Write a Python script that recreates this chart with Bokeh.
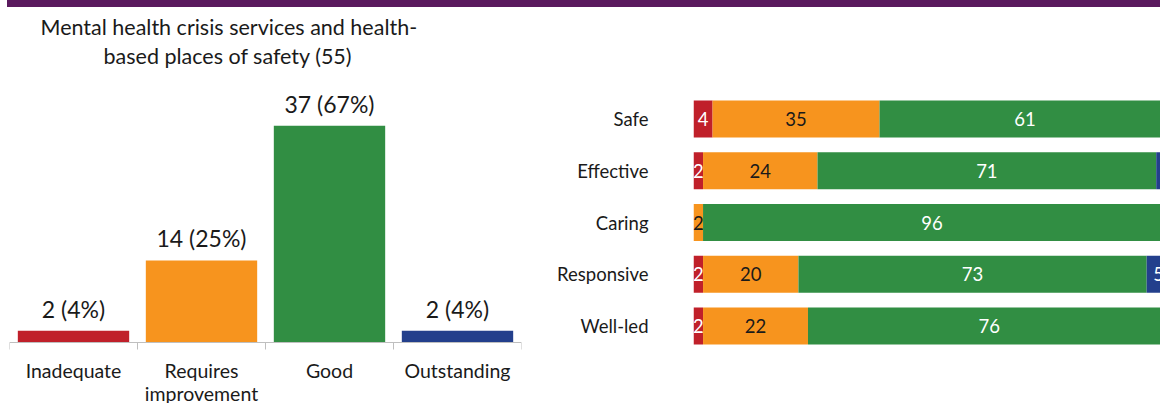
from bokeh.plotting import figure
from bokeh.models import (ColumnDataSource, Range1d, FixedTicker, LabelSet, Title, Div, Span)
from bokeh.layouts import row, column
from bokeh.core.properties import value
from bokeh.embed import file_html
from bokeh.resources import INLINE

# ---------------- data ----------------
title_lines = ["Mental health crisis services and health-", "based places of safety (55)"]
ratings = ["Inadequate", "Requires improvement", "Good", "Outstanding"]
rating_labels = ["Inadequate", "Requires\nimprovement", "Good", "Outstanding"]
counts = [2, 14, 37, 2]
total = 55

domains = ["Safe", "Effective", "Caring", "Responsive", "Well-led"]
inadequate_pct = [4, 2, 0, 2, 2]
requires_pct = [35, 24, 2, 20, 22]
good_pct = [61, 71, 96, 73, 76]
outstanding_pct = [0, 4, 2, 5, 0]

# ---------------- style ----------------
colors = ["#C0202A", "#F7941E", "#318E43", "#233F8C"]
label_colors = ["white", "#1A1A1A", "white", "white"]
FONT = "Lato"
TEXT = "#1A1A1A"
AXIS_GREY = "#BFBFBF"
PURPLE = "#5A1A5E"

# ---------------- left chart ----------------
xpos = [i + 1 for i in range(len(ratings))]
pct = [round(c / total * 100) for c in counts]
labels = [f"{c} ({p}%)" for c, p in zip(counts, pct)]
src = ColumnDataSource(dict(x=xpos, top=counts, color=colors, label=labels,
                            zero=[0] * len(counts), cat=rating_labels))

PX_PER_UNIT = 5.86
left = figure(width=540, height=396, x_range=Range1d(0.5, len(ratings) + 0.5),
              y_range=Range1d(-61 / PX_PER_UNIT, 274 / PX_PER_UNIT),
              output_backend="svg", toolbar_location=None,
              x_axis_location=None, y_axis_location=None,
              min_border_left=9, min_border_right=19,
              min_border_bottom=0, min_border_top=61)
left.title.text = title_lines[0]
left.title.align = "left"
left.title.offset = 31
left.title.standoff = 2
left.title.text_font = FONT
left.title.text_font_size = "21.5px"
left.title.text_font_style = "normal"
left.title.text_color = TEXT
left.add_layout(Title(text=title_lines[1], align="left", offset=94, standoff=0,
                      text_font=FONT, text_font_size="21.5px", text_font_style="normal",
                      text_color=TEXT), "above")

left.vbar(x="x", top="top", width=0.87, fill_color="color", line_color=None, source=src)
left.add_layout(LabelSet(x="x", y="top", text="label", source=src, text_align="center",
                         text_baseline="bottom", y_offset=8, text_font=value(FONT),
                         text_font_size="23px", text_color=TEXT))

# category axis: baseline, boundary ticks and labels
left.add_layout(Span(location=0, dimension="width", line_color=AXIS_GREY, line_width=1))
bounds = [i + 0.5 for i in range(len(ratings) + 1)]
left.segment(x0=bounds, x1=bounds, y0=[0] * len(bounds),
             y1=[-7 / PX_PER_UNIT] * len(bounds), line_color=AXIS_GREY, line_width=1)
left.text(x="x", y="zero", text="cat", source=src, text_align="center",
          text_baseline="top", y_offset=16, text_font=value(FONT),
          text_font_size="19.5px", text_color=TEXT, text_line_height=1.02)

left.xgrid.visible = False
left.ygrid.visible = False
left.outline_line_color = None

# ---------------- right chart ----------------
series = [inadequate_pct, requires_pct, good_pct, outstanding_pct]
keys = ["inad", "ri", "good", "out"]
ypos = [len(domains) - 1 - i for i in range(len(domains))]
src2 = ColumnDataSource(dict(y=ypos, inad=inadequate_pct, ri=requires_pct,
                             good=good_pct, out=outstanding_pct))

ROW_PX = 51.75
right = figure(width=620, height=396, y_range=Range1d(-77.5 / ROW_PX, 4 + 50.5 / ROW_PX),
               x_range=Range1d(0, 97.9), x_axis_location=None, output_backend="svg",
               toolbar_location=None, min_border_left=153, min_border_right=0,
               min_border_top=61, min_border_bottom=0)
right.hbar_stack(keys, y="y", height=0.715, fill_color=colors, line_color=None,
                 source=src2)

seg_x, seg_y, seg_t, seg_c = [], [], [], []
for i, yv in enumerate(ypos):
    start = 0
    for vals, lc in zip(series, label_colors):
        v = vals[i]
        if v > 0:
            seg_x.append(start + v / 2)
            seg_y.append(yv)
            seg_t.append(str(v))
            seg_c.append(lc)
        start += v
src3 = ColumnDataSource(dict(x=seg_x, y=seg_y, t=seg_t, c=seg_c))
right.text(x="x", y="y", text="t", text_color="c", source=src3, text_align="center",
           text_baseline="middle", text_font=value(FONT), text_font_size="18.5px")

yax = right.yaxis[0]
yax.ticker = FixedTicker(ticks=ypos, minor_ticks=[])
yax.major_label_overrides = {yv: d for yv, d in zip(ypos, domains)}
yax.axis_line_color = None
yax.major_tick_line_color = None
yax.minor_tick_line_color = None
yax.major_tick_out = 0
yax.major_tick_in = 0
yax.major_label_standoff = 45
yax.major_label_text_font = FONT
yax.major_label_text_font_size = "18.5px"
yax.major_label_text_color = TEXT
right.xgrid.visible = False
right.ygrid.visible = False
right.outline_line_color = None

band = Div(text="", width=1153, height=7, margin=(0, 0, 0, 7),
           styles={"background-color": PURPLE})

p = column(band, row(left, right))

open("out.html", "w").write(file_html(p, INLINE))
